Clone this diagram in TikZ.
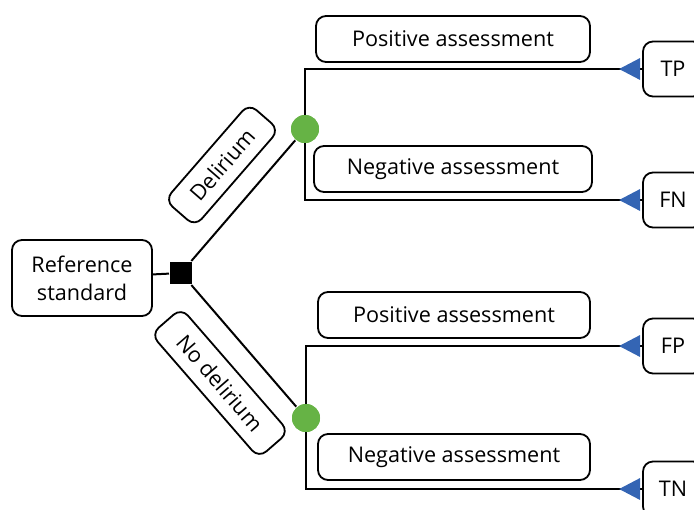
\documentclass[tikz,border=0pt]{standalone}
\usepackage{fontspec}
\setmainfont{Open Sans}
\definecolor{leafgreen}{RGB}{102,179,69}
\definecolor{tipblue}{RGB}{52,101,180}
\tikzstyle{every node}=[font=\fontsize{10.8}{14}\selectfont]
\tikzstyle{box}=[draw, rounded corners=5pt, line width=0.9pt, inner sep=2pt, align=center]
\tikzstyle{chance}=[circle, fill=leafgreen, minimum size=14pt, inner sep=0pt]
\tikzstyle{tri}=[fill=tipblue]

\begin{document}
\begin{tikzpicture}[x=0.5pt, y=-0.5pt, line width=1pt]
\clip (0,0) rectangle (694,509);
% Root
    \node[box, minimum width=70pt, minimum height=38pt] (ref) at (82,278) {Reference\\standard};
    \node[fill=black, minimum size=11pt, inner sep=0pt] (sq) at (181,273) {};
    \node[chance] (gd) at (305,129) {};
    \node[chance] (gn) at (306,418) {};
% Branch labels
    \node[box, minimum width=64pt, minimum height=20pt, rotate=49] (lbd) at (222,165) {Delirium};
    \node[box, minimum width=82pt, minimum height=20pt, rotate=-49] (lbn) at (220,383) {No delirium};
% Assessments
    \node[box, minimum width=137pt, minimum height=23pt] (pa1) at (453,39) {Positive assessment};
    \node[box, minimum width=139pt, minimum height=23pt] (na1) at (453,169) {Negative assessment};
    \node[box, minimum width=136pt, minimum height=23pt] (pa2) at (454,315) {Positive assessment};
    \node[box, minimum width=136pt, minimum height=23pt] (na2) at (454,457) {Negative assessment};
% Outcomes
    \node[box, minimum width=30pt, minimum height=27.5pt] (tp) at (673,69) {TP};
    \node[box, minimum width=30pt, minimum height=27.5pt] (fn) at (673,200) {FN};
    \node[box, minimum width=30pt, minimum height=27.5pt] (fp) at (673,346) {FP};
    \node[box, minimum width=30pt, minimum height=27.5pt] (tn) at (673,489) {TN};
% Connectors
    \draw (ref) -- (sq);
    \draw (sq) -- (gd);
    \draw (sq) -- (gn);
    \draw (gd.center) |- (tp.west);
    \draw (gd.center) |- (fn.west);
    \draw (gn.center) |- (fp.west);
    \draw (gn.center) |- (tn.west);
    \node[chance] at (gd) {};
    \node[chance] at (gn) {};
% Tips
    \fill[tri] (tp.west) ++(-2,-11) -- ++(0,22) -- ++(-21,-11) -- cycle;
    \fill[tri] (fn.west) ++(-2,-11) -- ++(0,22) -- ++(-21,-11) -- cycle;
    \fill[tri] (fp.west) ++(-2,-11) -- ++(0,22) -- ++(-21,-11) -- cycle;
    \fill[tri] (tn.west) ++(-2,-11) -- ++(0,22) -- ++(-21,-11) -- cycle;
\end{tikzpicture}
\end{document}
